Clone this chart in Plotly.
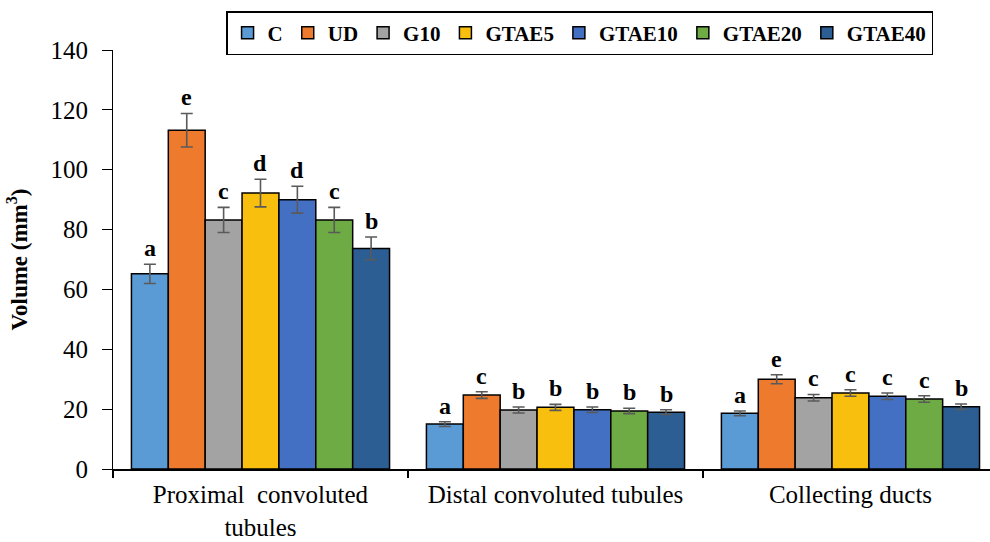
import plotly.graph_objects as go

# Renal tubule volumes per treatment group
categories = ["Proximal\u00a0 convoluted<br>tubules", "Distal convoluted tubules", "Collecting ducts"]
groups = ["C", "UD", "G10", "GTAE5", "GTAE10", "GTAE20", "GTAE40"]

values = {
    "C":      [65.2, 15.0, 18.6],
    "UD":     [113.2, 24.7, 30.0],
    "G10":    [83.2, 19.7, 23.8],
    "GTAE5":  [92.2, 20.6, 25.4],
    "GTAE10": [90.0, 19.8, 24.3],
    "GTAE20": [83.2, 19.4, 23.4],
    "GTAE40": [73.7, 19.0, 20.8],
}
errors = {
    "C":      [3.2, 0.8, 0.8],
    "UD":     [5.6, 1.1, 1.5],
    "G10":    [4.2, 1.0, 1.1],
    "GTAE5":  [4.6, 1.0, 1.1],
    "GTAE10": [4.5, 0.9, 1.1],
    "GTAE20": [4.2, 0.9, 1.1],
    "GTAE40": [3.8, 0.8, 0.9],
}
letters = {
    "C":      ["a", "a", "a"],
    "UD":     ["e", "c", "e"],
    "G10":    ["c", "b", "c"],
    "GTAE5":  ["d", "b", "c"],
    "GTAE10": ["d", "b", "c"],
    "GTAE20": ["c", "b", "c"],
    "GTAE40": ["b", "b", "b"],
}
colors = {
    "C": "#5B9BD5",
    "UD": "#EE7A2E",
    "G10": "#A3A3A3",
    "GTAE5": "#F9BF0E",
    "GTAE10": "#4470C4",
    "GTAE20": "#6EAB45",
    "GTAE40": "#2C5E93",
}

SERIF = "Liberation Serif"
x_pos = list(range(len(categories)))
bargap = 0.125
bar_w = (1 - bargap) / len(groups)

fig = go.Figure()
for gi, g in enumerate(groups):
    fig.add_trace(go.Bar(
        name=g,
        x=x_pos,
        y=values[g],
        marker=dict(color=colors[g], line=dict(color="black", width=1.5)),
        error_y=dict(type="data", array=errors[g], visible=True,
                     color="#5A5A5A", thickness=1.6, width=6),
    ))
    offset = (gi - (len(groups) - 1) / 2) * bar_w
    for ci, x in enumerate(x_pos):
        fig.add_annotation(
            x=x + offset, y=values[g][ci] + errors[g][ci],
            text="<b>%s</b>" % letters[g][ci],
            showarrow=False, yanchor="bottom", yshift=1,
            font=dict(family=SERIF, size=24, color="black"),
        )

fig.update_layout(
    width=990, height=542,
    margin=dict(l=113, r=0, t=50, b=73, autoexpand=False),
    paper_bgcolor="white", plot_bgcolor="white",
    barmode="group", bargap=bargap, bargroupgap=0,
    font=dict(family=SERIF, color="black"),
    legend=dict(
        orientation="h", x=0.532, xanchor="center", y=1.093, yanchor="top",
        bordercolor="black", borderwidth=1.5,
        font=dict(family=SERIF, size=21, color="black", weight="bold"),
        itemwidth=30, tracegroupgap=0,
    ),
    showlegend=True,
)
fig.update_xaxes(
    range=[-0.5, 2.473], automargin=False,
    tickmode="array", tickvals=x_pos, ticktext=categories,
    ticks="", showline=True, linecolor="black", linewidth=2,
    ticklabelstandoff=2,
    tickfont=dict(family=SERIF, size=25, color="black"),
    minor=dict(tickmode="array", tickvals=[-0.5, 0.5, 1.5], ticks="outside",
               ticklen=7, tickwidth=1.5, tickcolor="black"),
    showgrid=False, zeroline=False,
)
fig.update_yaxes(
    range=[0, 140], tickmode="linear", tick0=0, dtick=20, automargin=False,
    ticks="outside", ticklen=10, tickwidth=1, tickcolor="black",
    showline=True, linecolor="black", linewidth=1,
    ticklabelstandoff=9,
    tickfont=dict(family=SERIF, size=25, color="black"),
    title=dict(text="<b>Volume (mm<sup>3</sup>)</b>",
               font=dict(family=SERIF, size=23, color="black"), standoff=16),
    showgrid=False, zeroline=False,
)

fig.write_html("out.html")
